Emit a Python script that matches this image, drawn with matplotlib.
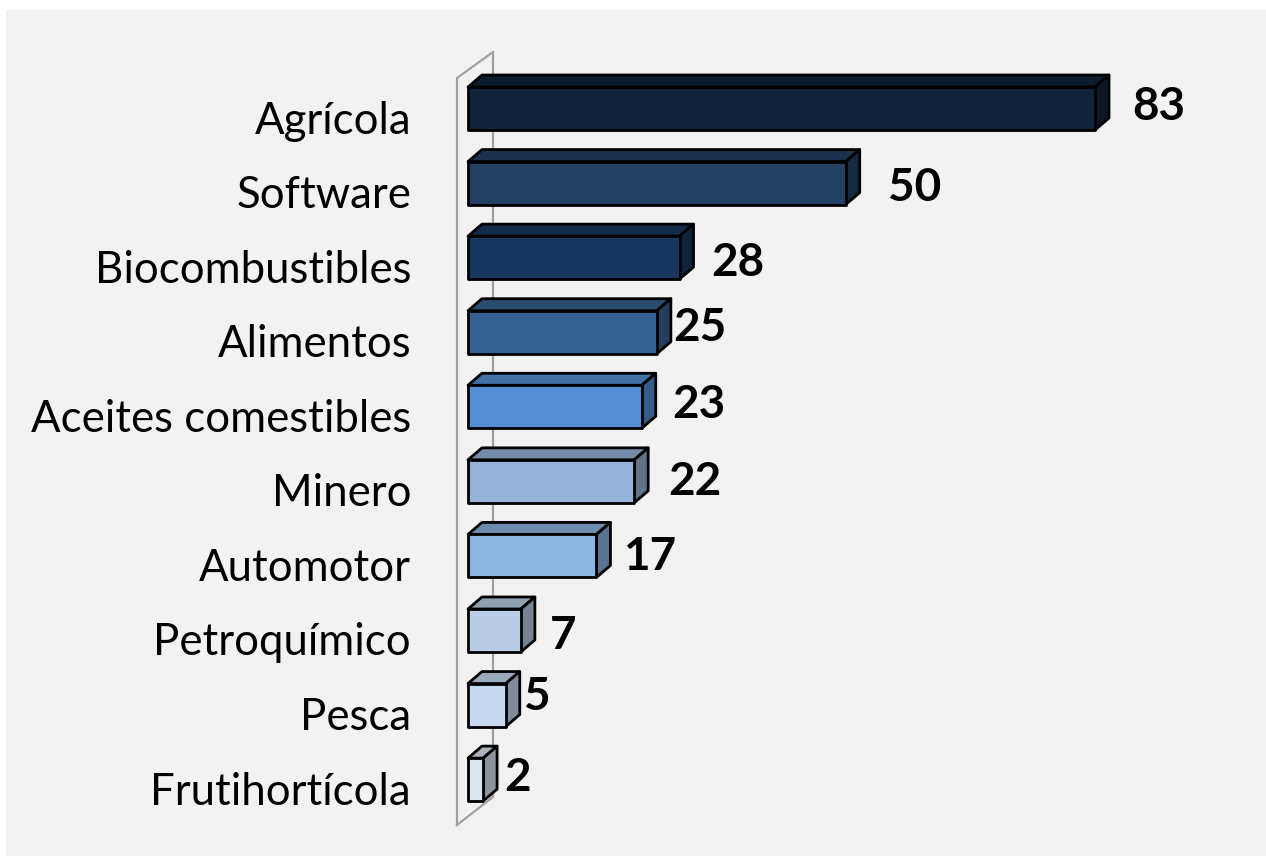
import matplotlib
matplotlib.use("Agg")
import matplotlib.pyplot as plt
from matplotlib.patches import Polygon, Rectangle
import matplotlib.colors as mcolors

# ---- data ----
categories = ["Agrícola", "Software", "Biocombustibles", "Alimentos",
              "Aceites comestibles", "Minero", "Automotor", "Petroquímico",
              "Pesca", "Frutihortícola"]
values = [83, 50, 28, 25, 23, 22, 17, 7, 5, 2]
front_colors = ["#11233b", "#244062", "#17375e", "#366092", "#558ed5",
                "#95b3d7", "#8db4e2", "#b9cde5", "#c6d9f1", "#dce6f2"]
# value label nudges (pixels: right of bar back edge, below bar centre)
label_dx = [23, 28, 18, 2, 17, 20, 13, 15, 4, 7]
label_dy = [-2, 5, 5, -4, -2, 1, 1, 6, -8, -2]

W, H = 1266, 856
DPI = 100
fig = plt.figure(figsize=(W / DPI, H / DPI), dpi=DPI)
fig.patch.set_facecolor("white")
fig.patches.append(Rectangle((6 / W, 0), 1, 1 - 10 / H, transform=fig.transFigure,
                             facecolor="#f2f2f2", edgecolor="none", zorder=-5))

ax = fig.add_axes([0, 0, 1, 1])
ax.set_zorder(1)
ax.set_facecolor("none")
ax.patch.set_alpha(0)
for s in ax.spines.values():
    s.set_visible(False)
ax.set_xticks([])
ax.set_yticks([])

# scales
px_per_unit = (1095 - 468) / 83.0
x0_px = 468
pitch = 74.57
y0_px = 108.5
ax.set_xlim(-x0_px / px_per_unit, (W - x0_px) / px_per_unit)
ax.set_ylim((H - y0_px) / pitch, -y0_px / pitch)


def ux(px):
    return px / px_per_unit


def uy(px):
    return px / pitch


half_h = uy(21.5)
ddx, ddy = ux(14), uy(-12)

# wall (left side plane)
wf_x, wb_x = ux(457 - x0_px), ux(493 - x0_px)
wf_top, wf_bot = uy(78 - y0_px), uy(825 - y0_px)
wb_top, wb_bot = uy(52 - y0_px), uy(797 - y0_px)
wall_col = "#a0a0a0"
ax.plot([wb_x, wb_x], [wb_top, wb_bot], color=wall_col, lw=1.6, zorder=1,
        solid_capstyle="butt")
ax.plot([wf_x, wf_x, wb_x], [wf_bot, wf_top, wb_top], color=wall_col, lw=1.6,
        zorder=10, solid_joinstyle="miter")
ax.plot([wf_x, wb_x], [wf_bot, wb_bot], color=wall_col, lw=1.6, zorder=10)


def shade(c, f):
    r, g, b = mcolors.to_rgb(c)
    return (r * f, g * f, b * f)


for i, (v, c) in enumerate(zip(values, front_colors)):
    top, bot = i - half_h, i + half_h
    front = [(0, bot), (0, top), (v, top), (v, bot)]
    topf = [(0, top), (ddx, top + ddy), (v + ddx, top + ddy), (v, top)]
    side = [(v, top), (v + ddx, top + ddy), (v + ddx, bot + ddy), (v, bot)]
    kw = dict(edgecolor="black", lw=2.0, joinstyle="round", zorder=5 + 0.01 * i)
    ax.add_patch(Polygon(topf, closed=True, facecolor=shade(c, 0.78), **kw))
    ax.add_patch(Polygon(side, closed=True, facecolor=shade(c, 0.64), **kw))
    ax.add_patch(Polygon(front, closed=True, facecolor=c, **kw))

    ax.text(ux(411 - x0_px), i + uy(25), categories[i], ha="right", va="baseline",
            fontsize=31.5, family=["Lato", "DejaVu Sans"], color="black", zorder=20)
    ax.text(v + ddx + ux(label_dx[i]), i + uy(label_dy[i]), str(v), ha="left",
            va="center", fontsize=33, fontweight="bold",
            family=["Lato", "DejaVu Sans"], color="black", zorder=20)

fig.savefig("out.png", dpi=DPI, facecolor=fig.get_facecolor())
